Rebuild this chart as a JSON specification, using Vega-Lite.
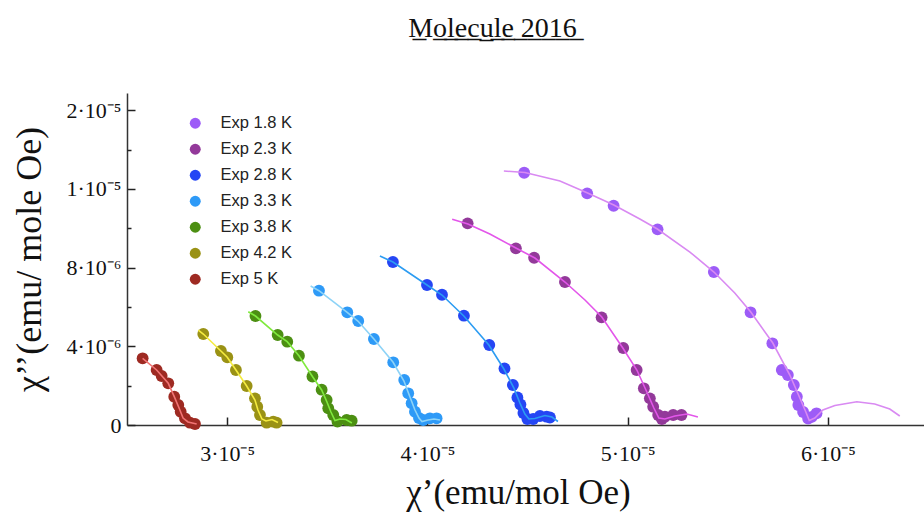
{
  "$schema": "https://vega.github.io/schema/vega-lite/v6.json",
  "width": 797,
  "height": 332,
  "autosize": {"type": "none"},
  "padding": {"left": 127, "top": 93, "right": 0, "bottom": 90},
  "background": "white",
  "title": {
    "text": "M̲o̲l̲e̲c̲u̲l̲e̲ ̲2̲0̲1̲6̲",
    "font": "Liberation Serif",
    "fontSize": 28,
    "fontWeight": "normal",
    "color": "#111",
    "anchor": "middle",
    "dx": -33,
    "offset": 50
  },
  "datasets": {
    "points": [
      {"s": "Exp 1.8 K", "x": 4.4835e-5, "y": 12.827e-6},
      {"s": "Exp 1.8 K", "x": 4.798e-5, "y": 11.779e-6},
      {"s": "Exp 1.8 K", "x": 4.930e-5, "y": 11.149e-6},
      {"s": "Exp 1.8 K", "x": 5.1495e-5, "y": 9.949e-6},
      {"s": "Exp 1.8 K", "x": 5.4306e-5, "y": 7.778e-6},
      {"s": "Exp 1.8 K", "x": 5.6138e-5, "y": 5.730e-6},
      {"s": "Exp 1.8 K", "x": 5.7227e-5, "y": 4.154e-6},
      {"s": "Exp 1.8 K", "x": 5.770e-5, "y": 2.796e-6},
      {"s": "Exp 1.8 K", "x": 5.800e-5, "y": 2.542e-6},
      {"s": "Exp 1.8 K", "x": 5.830e-5, "y": 2.034e-6},
      {"s": "Exp 1.8 K", "x": 5.845e-5, "y": 1.439e-6},
      {"s": "Exp 1.8 K", "x": 5.8525e-5, "y": 1.017e-6},
      {"s": "Exp 1.8 K", "x": 5.8764e-5, "y": 0.661e-6},
      {"s": "Exp 1.8 K", "x": 5.9014e-5, "y": 0.330e-6},
      {"s": "Exp 1.8 K", "x": 5.920e-5, "y": 0.41e-6},
      {"s": "Exp 1.8 K", "x": 5.9433e-5, "y": 0.595e-6},
      {"s": "Exp 2.3 K", "x": 4.201e-5, "y": 10.254e-6},
      {"s": "Exp 2.3 K", "x": 4.442e-5, "y": 8.983e-6},
      {"s": "Exp 2.3 K", "x": 4.533e-5, "y": 8.505e-6},
      {"s": "Exp 2.3 K", "x": 4.687e-5, "y": 7.270e-6},
      {"s": "Exp 2.3 K", "x": 4.870e-5, "y": 5.475e-6},
      {"s": "Exp 2.3 K", "x": 4.978e-5, "y": 3.915e-6},
      {"s": "Exp 2.3 K", "x": 5.045e-5, "y": 2.796e-6},
      {"s": "Exp 2.3 K", "x": 5.081e-5, "y": 1.866e-6},
      {"s": "Exp 2.3 K", "x": 5.111e-5, "y": 1.357e-6},
      {"s": "Exp 2.3 K", "x": 5.1276e-5, "y": 0.930e-6},
      {"s": "Exp 2.3 K", "x": 5.1525e-5, "y": 0.508e-6},
      {"s": "Exp 2.3 K", "x": 5.171e-5, "y": 0.305e-6},
      {"s": "Exp 2.3 K", "x": 5.186e-5, "y": 0.422e-6},
      {"s": "Exp 2.3 K", "x": 5.2274e-5, "y": 0.508e-6},
      {"s": "Exp 2.3 K", "x": 5.269e-5, "y": 0.508e-6},
      {"s": "Exp 2.8 K", "x": 3.828e-5, "y": 8.287e-6},
      {"s": "Exp 2.8 K", "x": 3.998e-5, "y": 7.117e-6},
      {"s": "Exp 2.8 K", "x": 4.073e-5, "y": 6.624e-6},
      {"s": "Exp 2.8 K", "x": 4.1825e-5, "y": 5.557e-6},
      {"s": "Exp 2.8 K", "x": 4.309e-5, "y": 4.067e-6},
      {"s": "Exp 2.8 K", "x": 4.385e-5, "y": 2.872e-6},
      {"s": "Exp 2.8 K", "x": 4.427e-5, "y": 2.034e-6},
      {"s": "Exp 2.8 K", "x": 4.4496e-5, "y": 1.398e-6},
      {"s": "Exp 2.8 K", "x": 4.4646e-5, "y": 1.042e-6},
      {"s": "Exp 2.8 K", "x": 4.4795e-5, "y": 0.610e-6},
      {"s": "Exp 2.8 K", "x": 4.4995e-5, "y": 0.305e-6},
      {"s": "Exp 2.8 K", "x": 4.5284e-5, "y": 0.305e-6},
      {"s": "Exp 2.8 K", "x": 4.562e-5, "y": 0.458e-6},
      {"s": "Exp 2.8 K", "x": 4.5954e-5, "y": 0.422e-6},
      {"s": "Exp 2.8 K", "x": 4.612e-5, "y": 0.381e-6},
      {"s": "Exp 3.3 K", "x": 3.4586e-5, "y": 6.828e-6},
      {"s": "Exp 3.3 K", "x": 3.600e-5, "y": 5.730e-6},
      {"s": "Exp 3.3 K", "x": 3.6548e-5, "y": 5.287e-6},
      {"s": "Exp 3.3 K", "x": 3.733e-5, "y": 4.372e-6},
      {"s": "Exp 3.3 K", "x": 3.8295e-5, "y": 3.188e-6},
      {"s": "Exp 3.3 K", "x": 3.8844e-5, "y": 2.288e-6},
      {"s": "Exp 3.3 K", "x": 3.9044e-5, "y": 1.612e-6},
      {"s": "Exp 3.3 K", "x": 3.9214e-5, "y": 1.103e-6},
      {"s": "Exp 3.3 K", "x": 3.938e-5, "y": 0.676e-6},
      {"s": "Exp 3.3 K", "x": 3.958e-5, "y": 0.356e-6},
      {"s": "Exp 3.3 K", "x": 3.979e-5, "y": 0.254e-6},
      {"s": "Exp 3.3 K", "x": 4.0127e-5, "y": 0.341e-6},
      {"s": "Exp 3.3 K", "x": 4.046e-5, "y": 0.341e-6},
      {"s": "Exp 3.8 K", "x": 3.1415e-5, "y": 5.541e-6},
      {"s": "Exp 3.8 K", "x": 3.2524e-5, "y": 4.575e-6},
      {"s": "Exp 3.8 K", "x": 3.3003e-5, "y": 4.235e-6},
      {"s": "Exp 3.8 K", "x": 3.3587e-5, "y": 3.523e-6},
      {"s": "Exp 3.8 K", "x": 3.426e-5, "y": 2.466e-6},
      {"s": "Exp 3.8 K", "x": 3.472e-5, "y": 1.795e-6},
      {"s": "Exp 3.8 K", "x": 3.497e-5, "y": 1.271e-6},
      {"s": "Exp 3.8 K", "x": 3.505e-5, "y": 0.849e-6},
      {"s": "Exp 3.8 K", "x": 3.530e-5, "y": 0.508e-6},
      {"s": "Exp 3.8 K", "x": 3.551e-5, "y": 0.178e-6},
      {"s": "Exp 3.8 K", "x": 3.597e-5, "y": 0.254e-6},
      {"s": "Exp 3.8 K", "x": 3.622e-5, "y": 0.219e-6},
      {"s": "Exp 4.2 K", "x": 2.881e-5, "y": 4.626e-6},
      {"s": "Exp 4.2 K", "x": 2.969e-5, "y": 3.762e-6},
      {"s": "Exp 4.2 K", "x": 3.0008e-5, "y": 3.442e-6},
      {"s": "Exp 4.2 K", "x": 3.044e-5, "y": 2.796e-6},
      {"s": "Exp 4.2 K", "x": 3.0976e-5, "y": 1.983e-6},
      {"s": "Exp 4.2 K", "x": 3.139e-5, "y": 1.357e-6},
      {"s": "Exp 4.2 K", "x": 3.1505e-5, "y": 0.930e-6},
      {"s": "Exp 4.2 K", "x": 3.164e-5, "y": 0.508e-6},
      {"s": "Exp 4.2 K", "x": 3.1975e-5, "y": 0.117e-6},
      {"s": "Exp 4.2 K", "x": 3.2304e-5, "y": 0.168e-6},
      {"s": "Exp 4.2 K", "x": 3.247e-5, "y": 0.117e-6},
      {"s": "Exp 5 K", "x": 2.578e-5, "y": 3.391e-6},
      {"s": "Exp 5 K", "x": 2.648e-5, "y": 2.796e-6},
      {"s": "Exp 5 K", "x": 2.673e-5, "y": 2.491e-6},
      {"s": "Exp 5 K", "x": 2.706e-5, "y": 2.120e-6},
      {"s": "Exp 5 K", "x": 2.736e-5, "y": 1.439e-6},
      {"s": "Exp 5 K", "x": 2.756e-5, "y": 1.017e-6},
      {"s": "Exp 5 K", "x": 2.768e-5, "y": 0.676e-6},
      {"s": "Exp 5 K", "x": 2.7896e-5, "y": 0.341e-6},
      {"s": "Exp 5 K", "x": 2.8145e-5, "y": 0.117e-6},
      {"s": "Exp 5 K", "x": 2.8395e-5, "y": 0.051e-6}
    ],
    "fits": [
      {"s": "Exp 1.8 K", "x": 4.382e-5, "y": 12.913e-6},
      {"s": "Exp 1.8 K", "x": 4.487e-5, "y": 12.837e-6},
      {"s": "Exp 1.8 K", "x": 4.662e-5, "y": 12.405e-6},
      {"s": "Exp 1.8 K", "x": 4.800e-5, "y": 11.795e-6},
      {"s": "Exp 1.8 K", "x": 4.931e-5, "y": 11.185e-6},
      {"s": "Exp 1.8 K", "x": 5.061e-5, "y": 10.473e-6},
      {"s": "Exp 1.8 K", "x": 5.1485e-5, "y": 9.964e-6},
      {"s": "Exp 1.8 K", "x": 5.311e-5, "y": 8.795e-6},
      {"s": "Exp 1.8 K", "x": 5.431e-5, "y": 7.778e-6},
      {"s": "Exp 1.8 K", "x": 5.535e-5, "y": 6.711e-6},
      {"s": "Exp 1.8 K", "x": 5.615e-5, "y": 5.745e-6},
      {"s": "Exp 1.8 K", "x": 5.725e-5, "y": 4.169e-6},
      {"s": "Exp 1.8 K", "x": 5.810e-5, "y": 2.542e-6},
      {"s": "Exp 1.8 K", "x": 5.860e-5, "y": 1.373e-6},
      {"s": "Exp 1.8 K", "x": 5.890e-5, "y": 0.661e-6},
      {"s": "Exp 1.8 K", "x": 5.907e-5, "y": 0.229e-6},
      {"s": "Exp 1.8 K", "x": 5.935e-5, "y": 0.356e-6},
      {"s": "Exp 1.8 K", "x": 5.975e-5, "y": 0.763e-6},
      {"s": "Exp 1.8 K", "x": 6.035e-5, "y": 0.991e-6},
      {"s": "Exp 1.8 K", "x": 6.1445e-5, "y": 1.185e-6},
      {"s": "Exp 1.8 K", "x": 6.234e-5, "y": 1.068e-6},
      {"s": "Exp 1.8 K", "x": 6.309e-5, "y": 0.813e-6},
      {"s": "Exp 1.8 K", "x": 6.359e-5, "y": 0.458e-6},
      {"s": "Exp 2.3 K", "x": 4.124e-5, "y": 10.458e-6},
      {"s": "Exp 2.3 K", "x": 4.2025e-5, "y": 10.219e-6},
      {"s": "Exp 2.3 K", "x": 4.312e-5, "y": 9.710e-6},
      {"s": "Exp 2.3 K", "x": 4.442e-5, "y": 8.999e-6},
      {"s": "Exp 2.3 K", "x": 4.537e-5, "y": 8.490e-6},
      {"s": "Exp 2.3 K", "x": 4.687e-5, "y": 7.270e-6},
      {"s": "Exp 2.3 K", "x": 4.787e-5, "y": 6.355e-6},
      {"s": "Exp 2.3 K", "x": 4.871e-5, "y": 5.491e-6},
      {"s": "Exp 2.3 K", "x": 4.976e-5, "y": 3.915e-6},
      {"s": "Exp 2.3 K", "x": 5.046e-5, "y": 2.796e-6},
      {"s": "Exp 2.3 K", "x": 5.096e-5, "y": 1.678e-6},
      {"s": "Exp 2.3 K", "x": 5.131e-5, "y": 0.864e-6},
      {"s": "Exp 2.3 K", "x": 5.156e-5, "y": 0.356e-6},
      {"s": "Exp 2.3 K", "x": 5.186e-5, "y": 0.305e-6},
      {"s": "Exp 2.3 K", "x": 5.236e-5, "y": 0.458e-6},
      {"s": "Exp 2.3 K", "x": 5.296e-5, "y": 0.559e-6},
      {"s": "Exp 2.3 K", "x": 5.351e-5, "y": 0.407e-6},
      {"s": "Exp 2.8 K", "x": 3.763e-5, "y": 8.592e-6},
      {"s": "Exp 2.8 K", "x": 3.828e-5, "y": 8.287e-6},
      {"s": "Exp 2.8 K", "x": 3.998e-5, "y": 7.117e-6},
      {"s": "Exp 2.8 K", "x": 4.073e-5, "y": 6.609e-6},
      {"s": "Exp 2.8 K", "x": 4.182e-5, "y": 5.541e-6},
      {"s": "Exp 2.8 K", "x": 4.307e-5, "y": 4.067e-6},
      {"s": "Exp 2.8 K", "x": 4.382e-5, "y": 2.847e-6},
      {"s": "Exp 2.8 K", "x": 4.432e-5, "y": 1.881e-6},
      {"s": "Exp 2.8 K", "x": 4.462e-5, "y": 1.118e-6},
      {"s": "Exp 2.8 K", "x": 4.487e-5, "y": 0.559e-6},
      {"s": "Exp 2.8 K", "x": 4.507e-5, "y": 0.305e-6},
      {"s": "Exp 2.8 K", "x": 4.537e-5, "y": 0.330e-6},
      {"s": "Exp 2.8 K", "x": 4.587e-5, "y": 0.483e-6},
      {"s": "Exp 2.8 K", "x": 4.622e-5, "y": 0.407e-6},
      {"s": "Exp 2.8 K", "x": 4.652e-5, "y": 0.178e-6},
      {"s": "Exp 3.3 K", "x": 3.417e-5, "y": 7.067e-6},
      {"s": "Exp 3.3 K", "x": 3.4586e-5, "y": 6.828e-6},
      {"s": "Exp 3.3 K", "x": 3.598e-5, "y": 5.745e-6},
      {"s": "Exp 3.3 K", "x": 3.653e-5, "y": 5.287e-6},
      {"s": "Exp 3.3 K", "x": 3.733e-5, "y": 4.372e-6},
      {"s": "Exp 3.3 K", "x": 3.828e-5, "y": 3.203e-6},
      {"s": "Exp 3.3 K", "x": 3.883e-5, "y": 2.237e-6},
      {"s": "Exp 3.3 K", "x": 3.913e-5, "y": 1.424e-6},
      {"s": "Exp 3.3 K", "x": 3.938e-5, "y": 0.763e-6},
      {"s": "Exp 3.3 K", "x": 3.958e-5, "y": 0.356e-6},
      {"s": "Exp 3.3 K", "x": 3.973e-5, "y": 0.178e-6},
      {"s": "Exp 3.3 K", "x": 4.003e-5, "y": 0.254e-6},
      {"s": "Exp 3.3 K", "x": 4.033e-5, "y": 0.305e-6},
      {"s": "Exp 3.3 K", "x": 4.063e-5, "y": 0.254e-6},
      {"s": "Exp 3.8 K", "x": 3.1056e-5, "y": 5.760e-6},
      {"s": "Exp 3.8 K", "x": 3.1415e-5, "y": 5.541e-6},
      {"s": "Exp 3.8 K", "x": 3.2524e-5, "y": 4.575e-6},
      {"s": "Exp 3.8 K", "x": 3.300e-5, "y": 4.235e-6},
      {"s": "Exp 3.8 K", "x": 3.3587e-5, "y": 3.523e-6},
      {"s": "Exp 3.8 K", "x": 3.426e-5, "y": 2.466e-6},
      {"s": "Exp 3.8 K", "x": 3.472e-5, "y": 1.779e-6},
      {"s": "Exp 3.8 K", "x": 3.4985e-5, "y": 1.169e-6},
      {"s": "Exp 3.8 K", "x": 3.5185e-5, "y": 0.661e-6},
      {"s": "Exp 3.8 K", "x": 3.5384e-5, "y": 0.229e-6},
      {"s": "Exp 3.8 K", "x": 3.5634e-5, "y": 0.305e-6},
      {"s": "Exp 3.8 K", "x": 3.593e-5, "y": 0.280e-6},
      {"s": "Exp 3.8 K", "x": 3.623e-5, "y": 0.102e-6},
      {"s": "Exp 4.2 K", "x": 2.856e-5, "y": 4.830e-6},
      {"s": "Exp 4.2 K", "x": 2.881e-5, "y": 4.626e-6},
      {"s": "Exp 4.2 K", "x": 2.969e-5, "y": 3.762e-6},
      {"s": "Exp 4.2 K", "x": 3.0008e-5, "y": 3.442e-6},
      {"s": "Exp 4.2 K", "x": 3.044e-5, "y": 2.796e-6},
      {"s": "Exp 4.2 K", "x": 3.0976e-5, "y": 1.983e-6},
      {"s": "Exp 4.2 K", "x": 3.139e-5, "y": 1.271e-6},
      {"s": "Exp 4.2 K", "x": 3.154e-5, "y": 0.763e-6},
      {"s": "Exp 4.2 K", "x": 3.174e-5, "y": 0.305e-6},
      {"s": "Exp 4.2 K", "x": 3.194e-5, "y": 0.203e-6},
      {"s": "Exp 4.2 K", "x": 3.224e-5, "y": 0.280e-6},
      {"s": "Exp 4.2 K", "x": 3.254e-5, "y": 0.127e-6},
      {"s": "Exp 5 K", "x": 2.578e-5, "y": 3.391e-6},
      {"s": "Exp 5 K", "x": 2.648e-5, "y": 2.796e-6},
      {"s": "Exp 5 K", "x": 2.706e-5, "y": 2.120e-6},
      {"s": "Exp 5 K", "x": 2.736e-5, "y": 1.439e-6},
      {"s": "Exp 5 K", "x": 2.760e-5, "y": 0.864e-6},
      {"s": "Exp 5 K", "x": 2.780e-5, "y": 0.356e-6},
      {"s": "Exp 5 K", "x": 2.8045e-5, "y": 0.153e-6},
      {"s": "Exp 5 K", "x": 2.848e-5, "y": 0.051e-6}
    ]
  },
  "layer": [
    {
      "data": {"name": "points"},
      "mark": {"type": "circle", "size": 140, "opacity": 1},
      "encoding": {
        "x": {
          "field": "x", "type": "quantitative",
          "scale": {"domain": [2.5e-5, 6.48e-5], "nice": false, "zero": false},
          "axis": {
            "values": [3e-5, 4e-5, 5e-5, 6e-5],
            "labelExpr": "round(datum.value*1e5) + '·10⁻⁵'",
            "title": "χ’(emu/mol Oe)",
            "titleFont": "Liberation Serif", "titleFontSize": 35, "titleFontWeight": "normal", "titleColor": "#111",
            "titlePadding": 11,
            "titleX": 391,
            "labelFont": "Liberation Serif", "labelFontSize": 22, "labelColor": "#111",
            "labelPadding": 26,
            "tickSize": -8, "tickColor": "#222", "tickWidth": 1.5,
            "domainColor": "#333", "domainWidth": 1.5,
            "grid": false
          }
        },
        "y": {
          "field": "y", "type": "quantitative",
          "scale": {"domain": [0, 1.688e-5], "nice": false},
          "axis": {
            "values": [0, 4e-6, 8e-6, 1.2e-5, 1.6e-5],
            "labelExpr": "datum.value < 1e-7 ? '0' : datum.value < 5e-6 ? '4·10⁻⁶' : datum.value < 1e-5 ? '8·10⁻⁶' : datum.value < 1.4e-5 ? '1·10⁻⁵' : '2·10⁻⁵'",
            "title": "χ’’(emu/ mole Oe)",
            "titleFont": "Liberation Serif", "titleFontSize": 36, "titleFontWeight": "normal", "titleColor": "#111",
            "titlePadding": 18,
            "labelFont": "Liberation Serif", "labelFontSize": 22, "labelColor": "#111",
            "labelPadding": 14,
            "tickSize": -8, "tickColor": "#222", "tickWidth": 1.5,
            "domainColor": "#333", "domainWidth": 1.5,
            "grid": false
          }
        },
        "color": {
          "field": "s", "type": "nominal",
          "scale": {
            "domain": ["Exp 1.8 K", "Exp 2.3 K", "Exp 2.8 K", "Exp 3.3 K", "Exp 3.8 K", "Exp 4.2 K", "Exp 5 K"],
            "range": ["#9D5CF7", "#93399A", "#2546F4", "#2E9AF7", "#4C8F12", "#9A9215", "#9E2A22"]
          },
          "legend": {
            "title": null,
            "orient": "none",
            "legendX": 60,
            "legendY": 22,
            "symbolType": "circle",
            "symbolSize": 120,
            "symbolStrokeWidth": 0,
            "labelFont": "Liberation Sans",
            "labelFontSize": 16.5,
            "labelColor": "#222",
            "labelOffset": 17,
            "rowPadding": 9,
            "padding": 0
          }
        }
      }
    },
    {
      "data": {"name": "fits"},
      "mark": {"type": "line", "strokeWidth": 1.6},
      "encoding": {
        "x": {"field": "x", "type": "quantitative"},
        "y": {
          "field": "y", "type": "quantitative",
          "axis": {
            "orient": "left",
            "values": [2e-6, 6e-6, 1e-5, 1.4e-5],
            "labels": false, "domain": false, "title": null, "grid": false,
            "tickSize": -4, "tickColor": "#222", "tickWidth": 1.5
          }
        },
        "color": {
          "field": "s", "type": "nominal",
          "scale": {
            "domain": ["Exp 1.8 K", "Exp 2.3 K", "Exp 2.8 K", "Exp 3.3 K", "Exp 3.8 K", "Exp 4.2 K", "Exp 5 K"],
            "range": ["#D98AF2", "#E356EA", "#2C9CF2", "#8DD3F7", "#80EA3E", "#F5EC40", "#F27474"]
          },
          "legend": null
        }
      }
    }
  ],
  "resolve": {"scale": {"color": "independent"}, "axis": {"y": "independent"}},
  "config": {"view": {"stroke": null}}
}
